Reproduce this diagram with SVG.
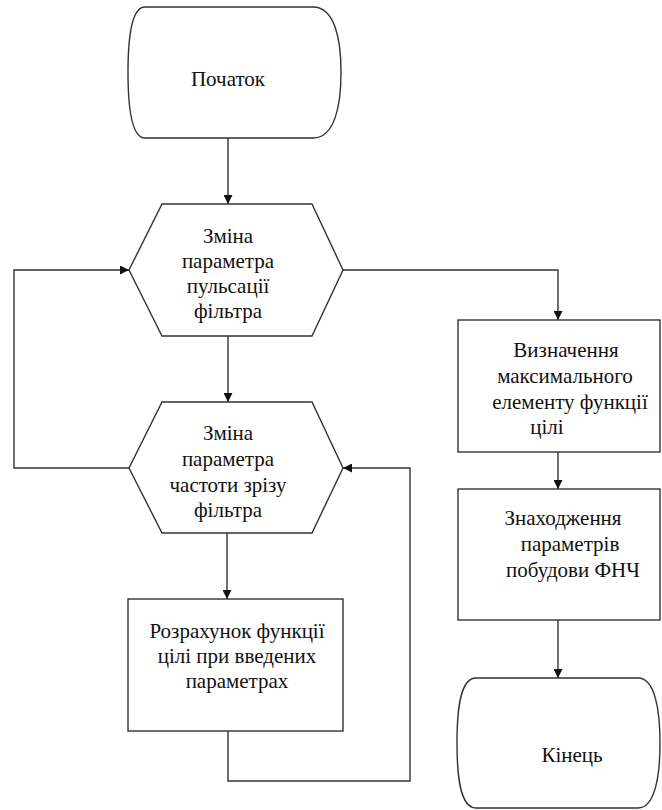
<svg xmlns="http://www.w3.org/2000/svg" width="662" height="810" viewBox="0 0 662 810" font-family="Liberation Serif, DejaVu Serif, serif">
<style>
.s{fill:#fff;stroke:#333;stroke-width:1.4}
.c{fill:none;stroke:#333;stroke-width:1.4}
.t{font-family:"Liberation Serif","DejaVu Serif",serif;font-size:21px;fill:#111;text-anchor:middle}
</style>
<defs>
<marker id="a" viewBox="0 0 10 10" refX="10" refY="5" markerWidth="9" markerHeight="9" markerUnits="userSpaceOnUse" orient="auto">
<path d="M0,0 L10,5 L0,10 Z" fill="#111"/>
</marker>
</defs>
<rect width="662" height="810" fill="#fff"/>
<g id="connectors">
<path class="c" d="M228,138 V204" marker-end="url(#a)"/>
<path class="c" d="M228,336 V402" marker-end="url(#a)"/>
<path class="c" d="M227,533 V599" marker-end="url(#a)"/>
<path class="c" d="M129,468 H14 V270 H129" marker-end="url(#a)"/>
<path class="c" d="M228,731 V781 H410 V468 H343" marker-end="url(#a)"/>
<path class="c" d="M343,270 H558 V320" marker-end="url(#a)"/>
<path class="c" d="M558,452 V489" marker-end="url(#a)"/>
<path class="c" d="M558,620 V678" marker-end="url(#a)"/>
</g>
<g id="start">
<path class="s" d="M145,7 H313 C335,7 341,40 341,72 C341,105 335,138 313,138 H145 C131,138 128,105 128,72 C128,40 131,7 145,7 Z"/>
<text class="t" x="228" y="86">Початок</text>
</g>
<g id="hex1">
<path class="s" d="M162,204 H312 L343,270 L312,336 H162 L129,270 Z"/>
<text class="t" x="228" y="243">Зміна</text>
<text class="t" x="228" y="268">параметра</text>
<text class="t" x="228" y="293">пульсації</text>
<text class="t" x="228" y="318">фільтра</text>
</g>
<g id="hex2">
<path class="s" d="M162,402 H312 L343,468 L312,533 H162 L129,468 Z"/>
<text class="t" x="228" y="440">Зміна</text>
<text class="t" x="228" y="466">параметра</text>
<text class="t" x="228" y="492">частоти зрізу</text>
<text class="t" x="228" y="517">фільтра</text>
</g>
<g id="calc">
<rect class="s" x="128" y="599" width="215" height="132"/>
<text class="t" x="237" y="638">Розрахунок функції</text>
<text class="t" x="237" y="663">цілі при введених</text>
<text class="t" x="237" y="688">параметрах</text>
</g>
<g id="max">
<rect class="s" x="458" y="320" width="202" height="132"/>
<text class="t" x="566" y="357">Визначення</text>
<text class="t" x="565" y="383">максимального</text>
<text class="t" x="570" y="409">елементу функції</text>
<text class="t" x="547" y="434">цілі</text>
</g>
<g id="find">
<rect class="s" x="458" y="489" width="202" height="131"/>
<text class="t" x="563" y="525">Знаходження</text>
<text class="t" x="570" y="551">параметрів</text>
<text class="t" x="573" y="577">побудови ФНЧ</text>
</g>
<g id="end">
<path class="s" d="M476,678 H638 C655,678 660,710 660,743 C660,776 655,808 638,808 H476 C460,808 457,776 457,743 C457,710 460,678 476,678 Z"/>
<text class="t" x="572" y="762">Кінець</text>
</g>
</svg>
